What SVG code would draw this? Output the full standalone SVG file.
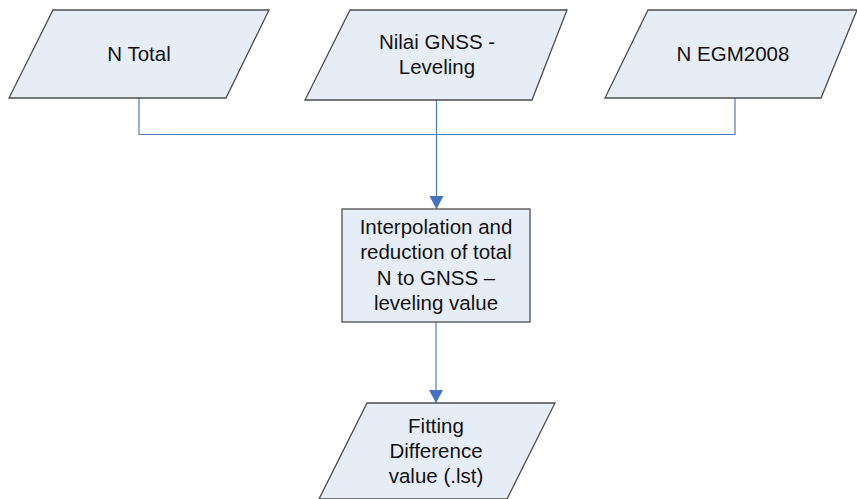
<svg xmlns="http://www.w3.org/2000/svg" width="857" height="499" viewBox="0 0 857 499">
<defs>
<style>
.shape{fill:#e7edf7;stroke:#4d4d4d;stroke-width:1.3}
.lbl{font-family:"Liberation Sans",Arial,sans-serif;font-size:20.5px;fill:#111;text-anchor:middle}
.conn{fill:none;stroke:#4a7ebb;stroke-width:1.2}
</style>
<marker id="arr" markerWidth="14" markerHeight="14" refX="13" refY="7" orient="auto" markerUnits="userSpaceOnUse">
<path d="M0,0 L13,7 L0,14 Z" fill="#4472c4"/>
</marker>
</defs>
<rect width="857" height="499" fill="#ffffff"/>
<g id="connectors">
<path class="conn" d="M139,98 V134.5 H735 V98"/>
<path class="conn" d="M436.5,100 V209" stroke-width="1.8" marker-end="url(#arr)"/>
<path class="conn" d="M436,322 V403" marker-end="url(#arr)"/>
</g>
<g id="n-total">
<polygon class="shape" points="53,10 269,10 226,98 9,98"/>
<text class="lbl" x="139" y="61">N Total</text>
</g>
<g id="nilai-gnss">
<polygon class="shape" points="350,10 567,10 532,100 305,100"/>
<text class="lbl" x="437" y="49">Nilai GNSS -</text>
<text class="lbl" x="437" y="74">Leveling</text>
</g>
<g id="n-egm2008">
<polygon class="shape" points="648,10 857,10 821,98 605,98"/>
<text class="lbl" x="733" y="61">N EGM2008</text>
</g>
<g id="interpolation">
<rect class="shape" x="342" y="209" width="188" height="113"/>
<text class="lbl" x="436" y="234">Interpolation and</text>
<text class="lbl" x="436" y="259">reduction of total</text>
<text class="lbl" x="436" y="285">N to GNSS –</text>
<text class="lbl" x="436" y="310">leveling value</text>
</g>
<g id="fitting">
<polygon class="shape" points="367,403 555,403 507,499 319,499"/>
<text class="lbl" x="436" y="433">Fitting</text>
<text class="lbl" x="436" y="458">Difference</text>
<text class="lbl" x="436" y="483">value (.lst)</text>
</g>
</svg>
